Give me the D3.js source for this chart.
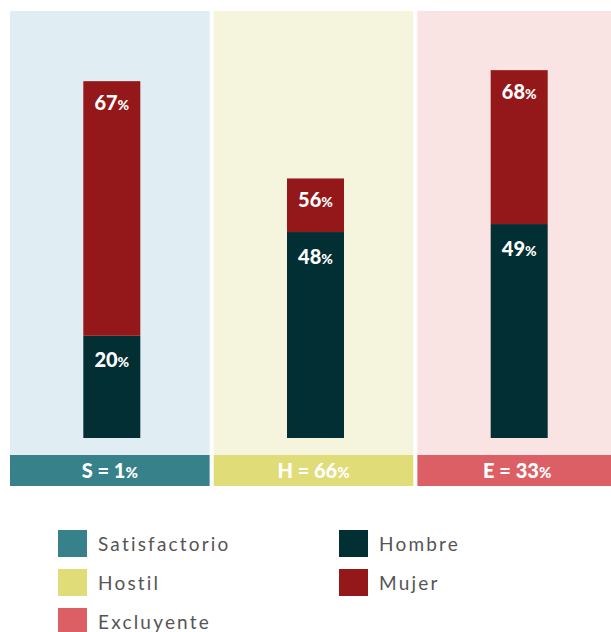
<!DOCTYPE html>
<html>
<head>
<meta charset="utf-8">
<script src="https://cdn.jsdelivr.net/npm/d3@7"></script>
<style>
  html, body { margin: 0; padding: 0; background: #ffffff; }
  svg { display: block; }
</style>
</head>
<body>
<svg id="chart" width="611" height="632"></svg>
<script>
// ---- data ----
const categories = ["S", "H", "E"];
const categoryShare = [1, 66, 33];                 // band labels (%)
const hombreLabel = [20, 48, 49];                  // printed % for Hombre
const mujerLabel = [67, 56, 68];                   // printed % for Mujer
const hombreBar = [26.9, 54.2, 56.3];              // bar segment sizes (chart units)
const mujerBar = [67.0, 14.1, 40.5];
const legendCategories = ["Satisfactorio", "Hostil", "Excluyente"];
const legendGenders = ["Hombre", "Mujer"];

// ---- styles ----
const panelBg = ["#e0eef3", "#f5f4dc", "#fae3e3"];
const bandColor = ["#37828a", "#e0dd78", "#dc5f66"];
const genderColor = { Hombre: "#022f33", Mujer: "#94181a" };
const labelFont = "Lato, 'Noto Sans', sans-serif";

const svg = d3.select("#chart");

const x = d3.scaleBand().domain(categories).range([10, 617]).paddingInner(0.02);
const y = d3.scaleLinear().domain([0, 100]).range([438, 58]);
const panelTop = 11, panelBottom = 455, bandBottom = 486;
const barW = 57, barShift = 2;

const rows = categories.map((c, i) => ({
  c, i, share: categoryShare[i],
  h: hombreBar[i], m: mujerBar[i],
  hl: hombreLabel[i], ml: mujerLabel[i]
}));

const g = svg.selectAll("g.panel").data(rows).join("g").attr("class", "panel");

g.append("rect")
  .attr("x", d => x(d.c)).attr("y", panelTop)
  .attr("width", x.bandwidth()).attr("height", panelBottom - panelTop)
  .attr("fill", d => panelBg[d.i]);

g.append("rect")
  .attr("x", d => x(d.c)).attr("y", panelBottom)
  .attr("width", x.bandwidth()).attr("height", bandBottom - panelBottom)
  .attr("fill", d => bandColor[d.i]);

const bx = d => x(d.c) + x.bandwidth() / 2 + barShift - barW / 2;
const cx = d => x(d.c) + x.bandwidth() / 2 + barShift;

// Hombre segment
g.append("rect")
  .attr("x", bx).attr("width", barW)
  .attr("y", d => y(d.h)).attr("height", d => y(0) - y(d.h))
  .attr("fill", genderColor.Hombre);
// Mujer segment
g.append("rect")
  .attr("x", bx).attr("width", barW)
  .attr("y", d => y(d.h + d.m)).attr("height", d => y(d.h) - y(d.h + d.m))
  .attr("fill", genderColor.Mujer);

function pctLabel(sel, val, yy, size, pctSize) {
  const t = sel.append("text")
    .attr("x", cx).attr("y", yy)
    .attr("text-anchor", "middle")
    .attr("fill", "#ffffff")
    .attr("font-family", labelFont)
    .attr("font-weight", 900)
    .attr("font-size", size);
  t.append("tspan").text(val);
  t.append("tspan").attr("font-size", pctSize).text("%");
  return t;
}
pctLabel(g, d => d.ml, d => y(d.h + d.m) + 29, 20, 14);
pctLabel(g, d => d.hl, d => y(d.h) + 31.5, 20, 14);

// band labels
const bl = g.append("text")
  .attr("x", d => x(d.c) + x.bandwidth() / 2)
  .attr("y", 477.5)
  .attr("text-anchor", "middle")
  .attr("fill", "#ffffff")
  .attr("font-family", labelFont)
  .attr("font-weight", 900)
  .attr("font-size", 20);
bl.append("tspan").text(d => d.c + " = " + d.share);
bl.append("tspan").attr("font-size", 15).text("%");

// ---- legend ----
const legendFont = "Lato, 'Open Sans', sans-serif";
const legItems = legendCategories.map((t, i) => ({ t, color: bandColor[i], col: 0, row: i }))
  .concat(legendGenders.map((t, i) => ({ t, color: genderColor[t], col: 1, row: i })));
const colX = [58, 339];
const rowY = d3.scaleLinear().domain([0, 1]).range([530, 569]);

const li = svg.selectAll("g.leg").data(legItems).join("g").attr("class", "leg")
  .attr("transform", d => `translate(${colX[d.col]},${rowY(d.row)})`);
li.append("rect").attr("width", 29).attr("height", 27).attr("fill", d => d.color);
li.append("text")
  .attr("x", 40).attr("y", 20.5)
  .attr("fill", "#555555")
  .attr("font-family", legendFont)
  .attr("font-weight", 400)
  .attr("font-size", 19)
  .attr("letter-spacing", 2.2)
  .text(d => d.t);
</script>
</body>
</html>
